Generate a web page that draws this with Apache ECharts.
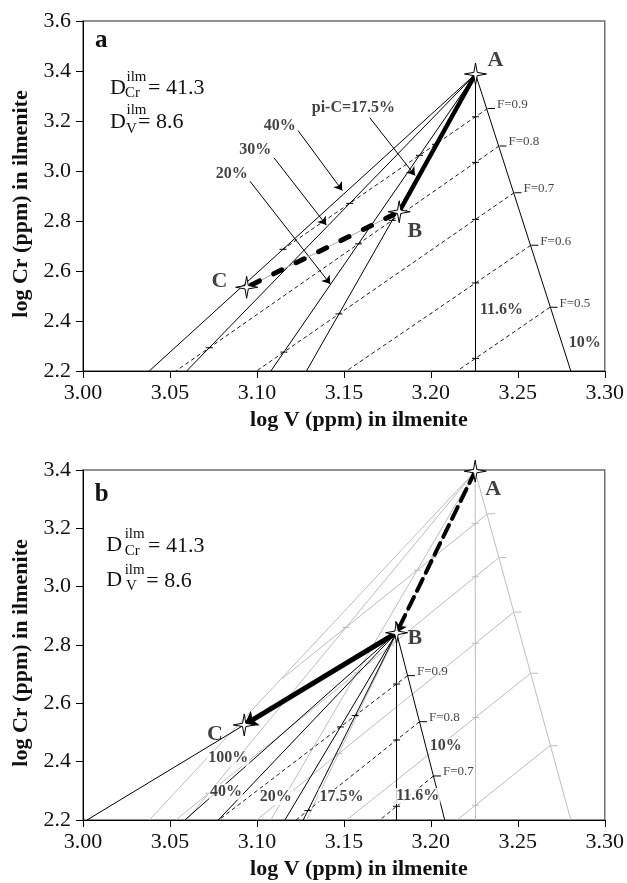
<!DOCTYPE html>
<html><head><meta charset="utf-8">
<script src="https://cdn.jsdelivr.net/npm/echarts@6/dist/echarts.min.js"></script>
<style>html,body{margin:0;padding:0;background:#fff}#c{width:627px;height:883px}</style>
</head><body><div id="c"></div>
<script>
// ---------------- DATA ----------------
const xTickLabels = ['3.00','3.05','3.10','3.15','3.20','3.25','3.30'];
const yTickLabels = ['2.2','2.4','2.6','2.8','3.0','3.2','3.4','3.6'];
const ptNames = ['A','B','C'];
const fLabels = ['F=0.9','F=0.8','F=0.7','F=0.6','F=0.5'];

// Panel a
const A_a = [3.2257, 3.388];
const B_a = [3.1818, 2.837];
const C_a = [3.0941, 2.535];
const fanLabels_a = ['40%','30%','20%','17.5%','11.6%','10%'];
const fanBottomX_a = [3.0381, 3.0596, 3.1080, 3.1285, 3.2257, 3.2805];
const fStart_a = [[3.2326,3.250],[3.2392,3.100],[3.2478,2.913],[3.2575,2.703],[3.2685,2.455]];
const fEnd_a   = [[3.1148,2.686],[3.0534,2.2],[3.0998,2.2],[3.1515,2.2],[3.2151,2.2]];
const calloutText_a = ['40%','30%','20%','pi-C=17.5%'];
const calloutTextPos_a = [[3.1132,3.182],[3.0991,3.084],[3.0855,2.989],[3.1555,3.252]];
const calloutFrom_a = [[3.1236,3.162],[3.1098,3.053],[3.0960,2.959],[3.1649,3.213]];
const calloutTo_a   = [[3.1491,2.922],[3.1399,2.784],[3.1422,2.548],[3.1909,2.982]];
const pctText_a = ['11.6%','10%'];
const pctPos_a = [[3.2406,2.444],[3.2885,2.313]];
const ptLabelPos_a = [[3.2372,3.441],[3.1908,2.760],[3.0784,2.560]];

// Panel b
const A_b = [3.2255, 3.396];
const B_b = [3.1803, 2.842];
const C_b = [3.0927, 2.526];
const fanLabels_b = ['100%','40%','30%','20%','17.5%','11.6%','10%'];
const fanBottomX_b = [3.0023, 3.0586, 3.0778, 3.1161, 3.1266, 3.1803, 3.2080];
const fLabels_b = ['F=0.9','F=0.8','F=0.7'];
const fStart_b = [[3.1866,2.695],[3.1935,2.537],[3.2015,2.351]];
const fEnd_b   = [[3.0780,2.2],[3.1225,2.2],[3.1707,2.2]];
const pctText_b = ['100%','40%','20%','17.5%','11.6%','10%'];
const pctPos_b = [[3.0835,2.4115],[3.0822,2.297],[3.1109,2.280],[3.1487,2.280],[3.1925,2.282],[3.2086,2.454]];
const ptLabelPos_b = [[3.2358,3.334],[3.1908,2.823],[3.0759,2.495]];

// ---------------- BUILD ----------------
const FONT = '"Liberation Serif","Times New Roman",serif';
const GRAY = '#bdbdbd';
const INK = '#111';
const STAR = 'path://M0,-10L1.5,-1.5L10,0L1.5,1.5L0,10L-1.5,1.5L-10,0L-1.5,-1.5Z';

function fanSegs(apex, bottoms){ return bottoms.map(x => ({coords:[apex,[x,2.2]]})); }
function fSegs(s, e){ return s.map((p,i) => ({coords:[p, e[i]]})); }
function intersect(a,b,c,d){
  const r=[b[0]-a[0],b[1]-a[1]], s=[d[0]-c[0],d[1]-c[1]];
  const den=r[0]*s[1]-r[1]*s[0];
  if(Math.abs(den)<1e-12) return null;
  const t=((c[0]-a[0])*s[1]-(c[1]-a[1])*s[0])/den;
  const u=((c[0]-a[0])*r[1]-(c[1]-a[1])*r[0])/den;
  if(t<-0.01||t>1.01||u<-0.01||u>1.01) return null;
  return [a[0]+t*r[0], a[1]+t*r[1]];
}
function ticks(apex, bottoms, starts, ends){
  const out=[];
  starts.forEach((s,i)=>{
    bottoms.forEach((bx,j)=>{
      if(j===bottoms.length-1) return;
      const p=intersect(s,ends[i],apex,[bx,2.2]);
      if(p && p[1]>=2.2) out.push(p);
    });
  });
  return out;
}
function linesS(gi, data, ls, extra){
  return Object.assign({type:'lines', coordinateSystem:'cartesian2d', xAxisIndex:gi, yAxisIndex:gi,
    polyline:false, silent:true, animation:false, data:data, lineStyle:Object.assign({opacity:1}, ls)}, extra||{});
}
function tickS(gi, data, color, offset){
  return {type:'scatter', xAxisIndex:gi, yAxisIndex:gi, data:data, symbol:'rect', symbolSize:[7,1],
    symbolOffset: offset||[0,0], itemStyle:{color:color, opacity:1}, silent:true, animation:false, z:3};
}
function labelS(gi, texts, pos, style, extra){
  return Object.assign({type:'scatter', xAxisIndex:gi, yAxisIndex:gi, symbolSize:1, itemStyle:{color:'rgba(0,0,0,0)'},
    silent:true, animation:false, clip:false, z:10,
    data: texts.map((t,i)=>({name:t, value:pos[i]})),
    label:Object.assign({show:true, position:'inside', formatter:'{b}', fontFamily:FONT, color:INK}, style)}, extra||{});
}
function starS(gi, pts){
  return {type:'scatter', xAxisIndex:gi, yAxisIndex:gi, data:pts, symbol:STAR, symbolSize:22, clip:false,
    itemStyle:{color:'#fff', borderColor:'#000', borderWidth:1, opacity:1}, silent:true, animation:false, z:8};
}

const axisFont = {fontFamily:FONT, fontSize:22, color:INK};
const nameFont = {fontFamily:FONT, fontSize:22, fontWeight:'bold', color:INK};
function xAx(gi){ return {gridIndex:gi, type:'value', min:3.0, max:3.3, interval:0.05,
  axisLine:{show:true, onZero:false, lineStyle:{color:'#000', width:1}},
  axisTick:{show:true, length:7, lineStyle:{color:'#000'}},
  axisLabel:Object.assign({margin:11, formatter:v=>xTickLabels[Math.round((v-3)/0.05)]}, axisFont),
  splitLine:{show:false}, name:'log V (ppm) in ilmenite', nameLocation:'middle', nameGap:38,
  nameTextStyle:Object.assign({padding:[0,0,0,30]}, nameFont)}; }
function yAx(gi, max){ return {gridIndex:gi, type:'value', min:2.2, max:max, interval:0.2,
  axisLine:{show:true, onZero:false, lineStyle:{color:'#000', width:1}},
  axisTick:{show:true, length:7, lineStyle:{color:'#000'}},
  axisLabel:Object.assign({margin:12, formatter:v=>yTickLabels[Math.round((v-2.2)/0.2)]}, axisFont),
  splitLine:{show:false}, name:'log Cr (ppm) in ilmenite', nameLocation:'middle', nameGap:50,
  nameTextStyle:Object.assign({padding:[0,16,0,0]}, nameFont)}; }

const series = [];
// ---- panel a ----
series.push(linesS(0, fanSegs(A_a, fanBottomX_a), {color:'#000', width:1}));
series.push(linesS(0, fSegs(fStart_a, fEnd_a), {color:'#000', width:0.9, type:[4,3]}));
series.push(tickS(0, ticks(A_a, fanBottomX_a, fStart_a, fEnd_a), '#000'));
series.push(tickS(0, fStart_a, '#000', [4,0]));
series.push(linesS(0, calloutFrom_a.map((p,i)=>({coords:[p, calloutTo_a[i]]})), {color:'#000', width:1},
  {symbol:['none','arrow'], symbolSize:8}));
series.push(linesS(0, [{coords:[B_a, C_a]}], {color:'#aaa', width:1}));
series.push(linesS(0, [{coords:[B_a, C_a]}], {color:'#000', width:5, type:[9,16], dashOffset:-6, cap:'round'}, {z:5}));
series.push(linesS(0, [{coords:[A_a, B_a]}], {color:'#000', width:4.5}, {z:5}));
series.push(starS(0, [A_a, B_a, C_a]));
series.push(labelS(0, ptNames, ptLabelPos_a, {fontSize:22, fontWeight:'bold'}));
series.push(labelS(0, calloutText_a, calloutTextPos_a, {fontSize:16, fontWeight:'bold'}));
series.push(labelS(0, pctText_a, pctPos_a, {fontSize:16, fontWeight:'bold'}));
series.push(labelS(0, fLabels, fStart_a, {fontSize:13, position:'right', distance:9, offset:[0,-4]}));

// ---- panel b ----
series.push(linesS(1, fanSegs(A_b, fanBottomX_a), {color:GRAY, width:1}));
series.push(linesS(1, fSegs(fStart_a, fEnd_a), {color:GRAY, width:1}));
series.push(tickS(1, ticks(A_b, fanBottomX_a, fStart_a, fEnd_a), GRAY));
series.push(tickS(1, fStart_a, GRAY, [4,0]));
series.push(linesS(1, fanSegs(B_b, fanBottomX_b), {color:'#000', width:1}, {z:4}));
series.push(linesS(1, fSegs(fStart_b, fEnd_b), {color:'#000', width:0.9, type:[4,3]}, {z:4}));
series.push(tickS(1, ticks(B_b, fanBottomX_b, fStart_b, fEnd_b), '#000'));
series.push(tickS(1, fStart_b, '#000', [4,0]));
series.push(linesS(1, [{coords:[A_b, B_b]}], {color:'#000', width:4, type:[13,7], cap:'round'}, {z:5, symbol:['none','arrow'], symbolSize:10}));
series.push(linesS(1, [{coords:[B_b, C_b]}], {color:'#000', width:5}, {z:5, symbol:['none','arrow'], symbolSize:13}));
series.push(starS(1, [A_b, B_b, C_b]));
series.push(labelS(1, ptNames, ptLabelPos_b, {fontSize:22, fontWeight:'bold'}));
series.push(labelS(1, pctText_b, pctPos_b, {fontSize:16, fontWeight:'bold', backgroundColor:'#fff', padding:[0,1]}));
series.push(labelS(1, fLabels_b, fStart_b, {fontSize:13, position:'right', distance:9, offset:[0,-4]}));

function T(x,y,text,size,bold){
  return {type:'text', x:x, y:y, silent:true, z:20,
    style:{text:text, font:(bold?'bold ':'')+size+'px '+FONT, fill:INK, textAlign:'left', textVerticalAlign:'middle', align:'left', verticalAlign:'middle'}};
}
const graphic = [
  T(95,41,'a',25,true),
  T(110,88.5,'D',22), T(126.5,77.5,'ilm',15), T(125,93.5,'Cr',15), T(148,88.5,'= 41.3',22),
  T(110,122,'D',22), T(126.5,110.5,'ilm',15), T(126,129,'V',15), T(138,122,'= 8.6',22),
  T(94.7,495,'b',25,true),
  T(106.3,545,'D',22), T(124.7,534.5,'ilm',15), T(124.7,551,'Cr',15), T(148,546,'= 41.3',22),
  T(106.3,580.5,'D',22), T(124.7,570,'ilm',15), T(126,586,'V',15), T(146.3,581,'= 8.6',22)
];

const chart = echarts.init(document.getElementById('c'), null, {renderer:'canvas'});
chart.setOption({
  animation:false,
  backgroundColor:'#fff',
  grid:[
    {left:83, top:21, width:522, height:350, show:true, borderColor:'#6e6e6e', borderWidth:1.5, backgroundColor:'transparent'},
    {left:83, top:470, width:522, height:350, show:true, borderColor:'#6e6e6e', borderWidth:1.5, backgroundColor:'transparent'}
  ],
  xAxis:[xAx(0), xAx(1)],
  yAxis:[yAx(0,3.6), yAx(1,3.4)],
  series:series,
  graphic:graphic
});
</script></body></html>
